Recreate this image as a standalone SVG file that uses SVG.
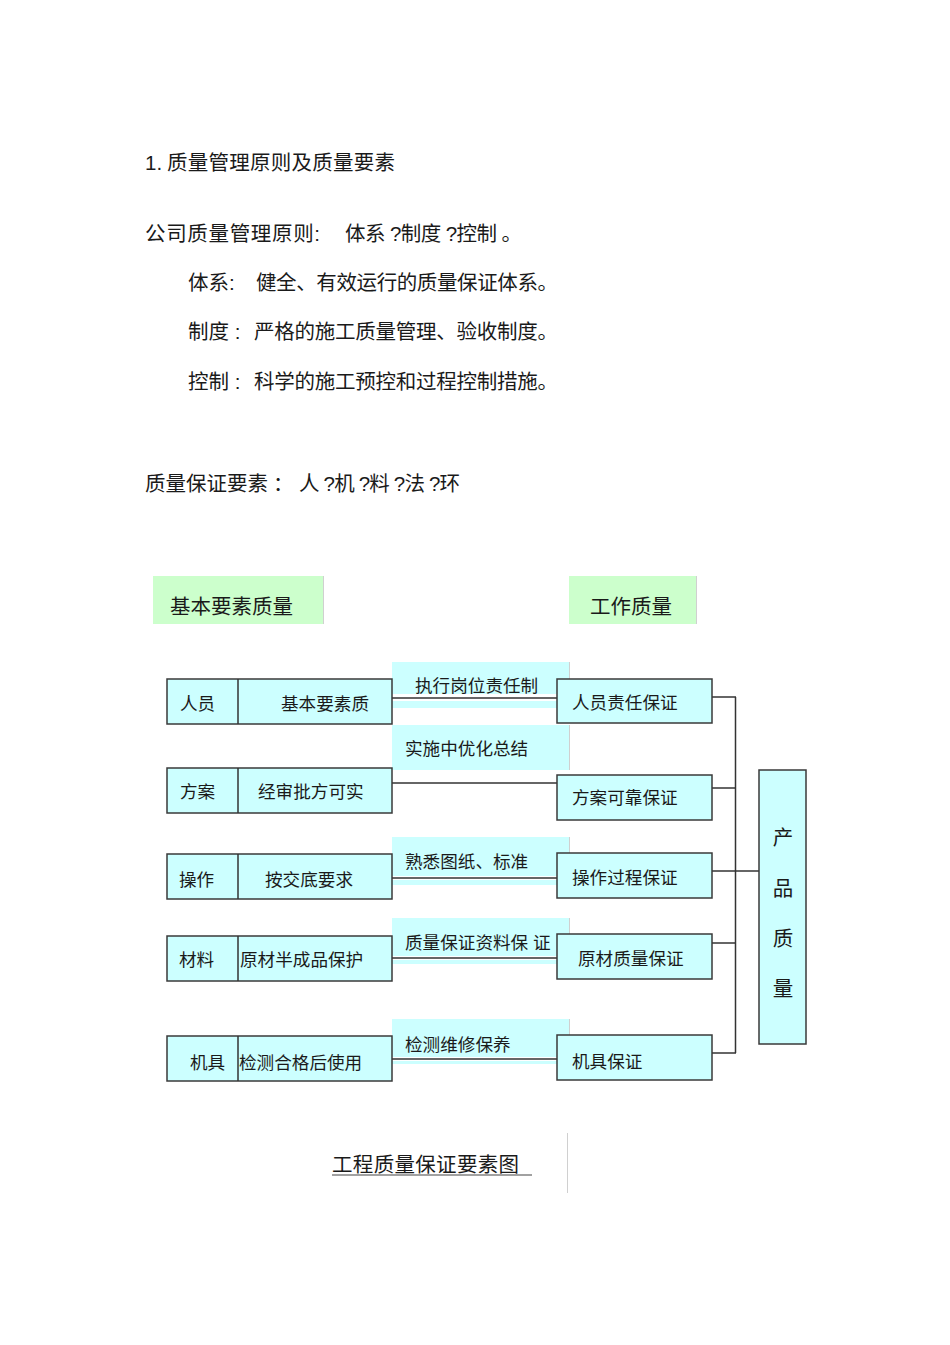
<svg xmlns="http://www.w3.org/2000/svg" width="950" height="1345" viewBox="0 0 950 1345">
<style>
text{font-family:"Liberation Sans","Noto Sans CJK SC",sans-serif;fill:#1a1a1a}
.h{font-size:20.5px}
.t{font-size:17.6px}
.box{fill:#ccffff;stroke:#3a3a3a;stroke-width:1.5}
.lab{fill:#ccffff}
.edge{stroke:#d0d0d0;stroke-width:1;fill:none}
.green{fill:#ccffcc}
.ln{stroke:#333;stroke-width:1.5;fill:none}
</style>
<rect width="950" height="1345" fill="#fff"/>
<g id="intro">
<text class="h" x="145" y="170">1.</text>
<text class="h" x="167" y="170" textLength="228">质量管理原则及质量要素</text>
<text class="h" x="145" y="241" textLength="175">公司质量管理原则:</text>
<text class="h" x="345" y="241" textLength="177">体系 ?制度 ?控制  。</text>
<text class="h" x="188" y="290">体系:</text>
<text class="h" x="256" y="290" textLength="302">健全、有效运行的质量保证体系。</text>
<text class="h" x="188" y="339">制度 :</text>
<text class="h" x="254" y="339" textLength="304">严格的施工质量管理、验收制度。</text>
<text class="h" x="188" y="389">控制 :</text>
<text class="h" x="254" y="389" textLength="304">科学的施工预控和过程控制措施。</text>
<text class="h" x="145" y="491" textLength="123">质量保证要素</text>
<text class="h" x="273" y="491">：</text>
<text class="h" x="299" y="491" textLength="161">人 ?机 ?料 ?法 ?环</text>
</g>
<g id="title-basic">
<rect class="green" x="153" y="576" width="170" height="48"/>
<line class="edge" x1="323.5" y1="576" x2="323.5" y2="624"/>
<text class="h" x="170" y="614">基本要素质量</text>
</g>
<g id="title-work">
<rect class="green" x="569" y="576" width="127" height="48"/>
<line class="edge" x1="696.5" y1="576" x2="696.5" y2="624"/>
<text class="h" x="590" y="614">工作质量</text>
</g>
<g id="connectors">
<line class="ln" x1="392" y1="698" x2="557" y2="698"/>
<line class="ln" x1="392" y1="783" x2="557" y2="783"/>
<line class="ln" x1="392" y1="878" x2="557" y2="878"/>
<line class="ln" x1="392" y1="958" x2="557" y2="958"/>
<line class="ln" x1="392" y1="1059" x2="557" y2="1059"/>
<line class="ln" x1="712" y1="697" x2="736" y2="697"/>
<line class="ln" x1="712" y1="788" x2="736" y2="788"/>
<line class="ln" x1="712" y1="871" x2="759" y2="871"/>
<line class="ln" x1="712" y1="943" x2="736" y2="943"/>
<line class="ln" x1="712" y1="1053" x2="736" y2="1053"/>
<line class="ln" x1="735.5" y1="697" x2="735.5" y2="1053"/>
</g>
<g id="lab-1">
<rect class="lab" x="392" y="662" width="177" height="32"/>
<rect class="lab" x="392" y="701" width="177" height="7"/>
<line class="edge" x1="569.5" y1="662" x2="569.5" y2="708"/>
<text class="t" x="415" y="692">执行岗位责任制</text>
</g>
<g id="lab-2">
<rect class="lab" x="392" y="725" width="177" height="45"/>
<line class="edge" x1="569.5" y1="725" x2="569.5" y2="770"/>
<text class="t" x="405" y="755">实施中优化总结</text>
</g>
<g id="lab-3">
<rect class="lab" x="392" y="837" width="177" height="39"/>
<rect class="lab" x="392" y="880" width="177" height="5"/>
<line class="edge" x1="569.5" y1="837" x2="569.5" y2="885"/>
<text class="t" x="405" y="868">熟悉图纸、标准</text>
</g>
<g id="lab-4">
<rect class="lab" x="392" y="918" width="177" height="38"/>
<rect class="lab" x="392" y="960" width="177" height="4"/>
<line class="edge" x1="569.5" y1="918" x2="569.5" y2="963"/>
<text class="t" x="405" y="949">质量保证资料保  证</text>
</g>
<g id="lab-5">
<rect class="lab" x="392" y="1019" width="177" height="38"/>
<rect class="lab" x="392" y="1061" width="177" height="3"/>
<line class="edge" x1="569.5" y1="1019" x2="569.5" y2="1063"/>
<text class="t" x="405" y="1051">检测维修保养</text>
</g>
<g id="row-personnel">
<rect class="box" x="167" y="679" width="225" height="45"/>
<line class="ln" x1="238" y1="679" x2="238" y2="724"/>
<text class="t" x="180" y="710">人员</text>
<text class="t" x="281" y="710">基本要素质</text>
</g>
<g id="row-plan">
<rect class="box" x="167" y="768" width="225" height="45"/>
<line class="ln" x1="238" y1="768" x2="238" y2="813"/>
<text class="t" x="180" y="798">方案</text>
<text class="t" x="258" y="798">经审批方可实</text>
</g>
<g id="row-operation">
<rect class="box" x="167" y="854" width="225" height="45"/>
<line class="ln" x1="238" y1="854" x2="238" y2="899"/>
<text class="t" x="179" y="886">操作</text>
<text class="t" x="265" y="886">按交底要求</text>
</g>
<g id="row-material">
<rect class="box" x="167" y="936" width="225" height="45"/>
<line class="ln" x1="238" y1="936" x2="238" y2="981"/>
<text class="t" x="179" y="966">材料</text>
<text class="t" x="240" y="966">原材半成品保护</text>
</g>
<g id="row-machine">
<rect class="box" x="167" y="1036" width="225" height="45"/>
<line class="ln" x1="238" y1="1036" x2="238" y2="1081"/>
<text class="t" x="190" y="1069">机具</text>
<text class="t" x="239" y="1069">检测合格后使用</text>
</g>
<g id="ws-personnel">
<rect class="box" x="557" y="679" width="155" height="44"/>
<text class="t" x="572" y="709">人员责任保证</text>
</g>
<g id="ws-plan">
<rect class="box" x="557" y="775" width="155" height="45"/>
<text class="t" x="572" y="804">方案可靠保证</text>
</g>
<g id="ws-operation">
<rect class="box" x="557" y="853" width="155" height="45"/>
<text class="t" x="572" y="884">操作过程保证</text>
</g>
<g id="ws-material">
<rect class="box" x="557" y="934" width="155" height="45"/>
<text class="t" x="578" y="965">原材质量保证</text>
</g>
<g id="ws-machine">
<rect class="box" x="557" y="1035" width="155" height="45"/>
<text class="t" x="572" y="1068">机具保证</text>
</g>
<g id="product-quality">
<rect class="box" x="759" y="770" width="47" height="274"/>
<text class="h" x="783" y="845" text-anchor="middle">产</text>
<text class="h" x="783" y="896" text-anchor="middle">品</text>
<text class="h" x="783" y="946" text-anchor="middle">质</text>
<text class="h" x="783" y="996" text-anchor="middle">量</text>
</g>
<g id="caption">
<text class="h" x="332" y="1172" textLength="187">工程质量保证要素图</text>
<line x1="332" y1="1175" x2="532" y2="1175" stroke="#444" stroke-width="1.2"/>
<line class="edge" x1="567.5" y1="1133" x2="567.5" y2="1193"/>
</g>
</svg>
